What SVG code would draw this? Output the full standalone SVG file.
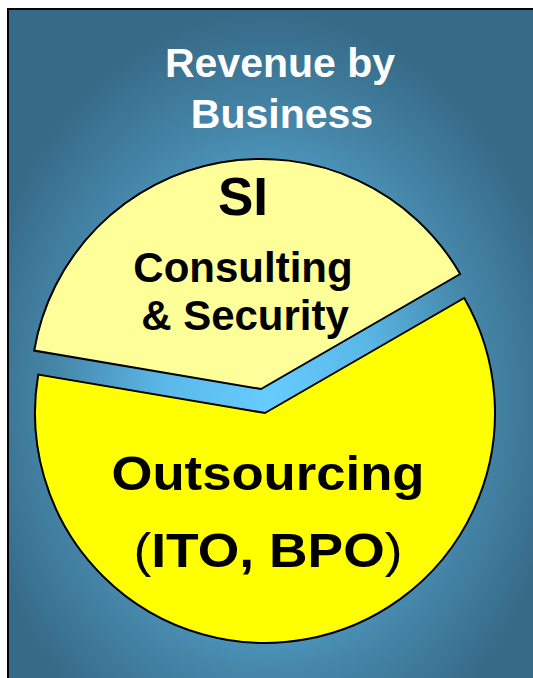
<svg xmlns="http://www.w3.org/2000/svg" width="533" height="678" viewBox="0 0 533 678">
  <defs>
    <radialGradient id="bg" gradientUnits="userSpaceOnUse" cx="268" cy="400" r="300" gradientTransform="translate(268 400) scale(1 1.3) translate(-268 -400)">
      <stop offset="0" stop-color="#66ccff"/>
      <stop offset="0.35" stop-color="#5ab8e8"/>
      <stop offset="0.7" stop-color="#4687aa"/>
      <stop offset="1" stop-color="#366a87"/>
    </radialGradient>
  </defs>
  <style>
    .frame { fill: url(#bg); stroke: #000; stroke-width: 2; }
    .slice { stroke: #000; stroke-width: 2; stroke-linejoin: miter; }
    .si { fill: #ffff99; }
    .out { fill: #ffff00; }
    .title { font-family: "Liberation Sans", Arial, sans-serif; font-weight: bold; fill: #ffffff; text-anchor: middle; }
    .lbl { font-family: "Liberation Sans", Arial, sans-serif; font-weight: bold; fill: #000; text-anchor: middle; }
    .paren { font-weight: normal; }
  </style>
  <g id="background">
    <rect class="frame" x="8" y="9" width="540" height="690"/>
  </g>
  <g id="title">
    <text class="title" x="280" y="77" font-size="41">Revenue by</text>
    <text class="title" x="282" y="128" font-size="41">Business</text>
  </g>
  <g id="slice-si">
    <path class="slice si" d="M261,389 L34.2,350.6 A230,230 0 0,1 460.2,274 Z"/>
    <text class="lbl" x="243" y="215" font-size="53">SI</text>
    <text class="lbl" x="243" y="282" font-size="42">Consulting</text>
    <text class="lbl" x="245" y="330" font-size="42">&amp; Security</text>
  </g>
  <g id="slice-outsourcing">
    <path class="slice out" d="M265,413 L464.2,298 A230,230 0 1,1 38.2,374.6 Z"/>
    <text class="lbl" x="268" y="490" font-size="48" textLength="313" lengthAdjust="spacingAndGlyphs">Outsourcing</text>
    <text class="lbl" x="268" y="567" font-size="48" textLength="269" lengthAdjust="spacingAndGlyphs"><tspan class="paren">(</tspan>ITO, BPO<tspan class="paren">)</tspan></text>
  </g>
</svg>
